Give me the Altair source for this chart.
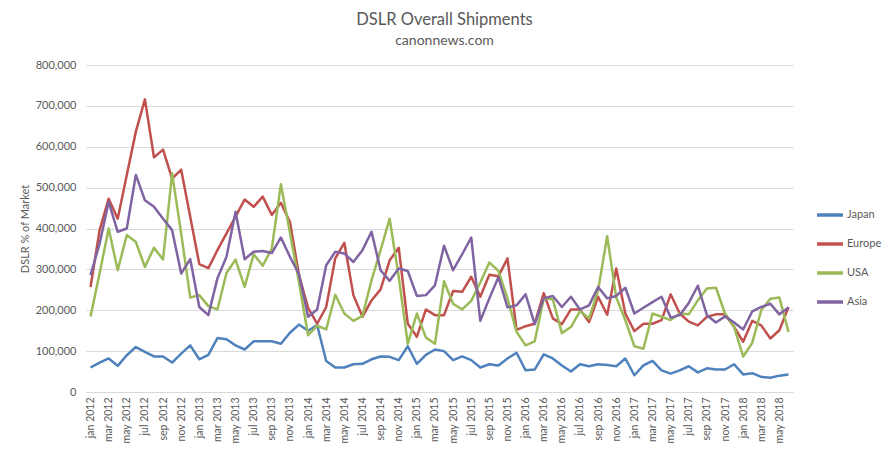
import altair as alt
import pandas as pd

month_names = ["jan", "feb", "mar", "apr", "may", "jun", "jul", "aug", "sep", "oct", "nov", "dec"]
months = [f"{month_names[i % 12]} {2012 + i // 12}" for i in range(78)]

series_names = ["Japan", "Europe", "USA", "Asia"]
series_colors = ["#4F81BD", "#C0504D", "#9BBB59", "#8064A2"]

japan = [60, 72, 82, 64, 90, 110, 98, 87, 87, 72, 94, 114, 80, 91, 132, 129, 114, 104, 124, 124,
         124, 118, 145, 165, 150, 164, 76, 60, 60, 68, 69, 80, 87, 86, 78, 112, 69, 91, 104, 100,
         78, 87, 78, 60, 68, 65, 82, 96, 53, 55, 92, 82, 65, 50, 68, 63, 68, 66, 63, 82,
         41, 65, 76, 53, 45, 53, 63, 48, 58, 55, 55, 68, 43, 46, 37, 35, 40, 43]
europe = [257, 396, 473, 424, 531, 637, 716, 574, 593, 522, 544, 429, 313, 303, 347, 388, 429, 471, 453, 478,
          433, 463, 416, 286, 206, 167, 208, 327, 365, 237, 184, 224, 251, 322, 353, 167, 135, 202, 188, 188,
          247, 245, 282, 233, 287, 283, 327, 152, 161, 167, 242, 180, 166, 202, 202, 171, 233, 189, 302, 192,
          149, 167, 167, 176, 239, 192, 172, 163, 184, 190, 190, 159, 123, 174, 163, 131, 151, 208]
usa = [185, 290, 400, 298, 384, 367, 306, 353, 324, 535, 388, 231, 237, 210, 202, 291, 324, 257, 337, 309,
       351, 508, 390, 268, 139, 162, 153, 238, 192, 174, 186, 273, 347, 424, 282, 118, 192, 133, 118, 271,
       216, 202, 223, 268, 317, 296, 229, 147, 114, 124, 229, 227, 144, 159, 198, 180, 249, 381, 231, 176,
       112, 106, 192, 184, 176, 192, 190, 224, 253, 255, 192, 159, 87, 120, 200, 228, 231, 147]
asia = [286, 363, 465, 392, 400, 531, 469, 453, 424, 396, 290, 325, 208, 188, 278, 331, 441, 325, 343, 345,
        340, 378, 331, 288, 184, 202, 310, 343, 339, 318, 347, 392, 298, 272, 302, 296, 235, 237, 261, 358,
        298, 337, 378, 174, 229, 281, 207, 212, 239, 166, 229, 235, 208, 233, 202, 212, 257, 229, 235, 255,
        192, 206, 220, 233, 182, 188, 218, 260, 188, 170, 185, 170, 153, 197, 208, 216, 190, 207]

y_ticks = [0, 100000, 200000, 300000, 400000, 500000, 600000, 700000, 800000]

rows = []
for name, vals in zip(series_names, [japan, europe, usa, asia]):
    for i, v in enumerate(vals):
        rows.append({"month": months[i], "idx": i, "region": name, "value": v * 1000})
df = pd.DataFrame(rows)

FONT = "Lato"
TXT = "#595959"

chart = alt.Chart(df).mark_line(strokeWidth=2.5, strokeJoin="round").encode(
    x=alt.X("month:O", sort=months,
            scale=alt.Scale(padding=0.5),
            axis=alt.Axis(values=months[::2], labelAngle=-90, labelFontSize=10.5, labelColor=TXT,
                          labelFont=FONT, ticks=False, domainColor="#d9d9d9", grid=False,
                          labelPadding=5, title=None)),
    y=alt.Y("value:Q", scale=alt.Scale(domain=[0, 800000], nice=False),
            axis=alt.Axis(values=y_ticks, format=",.0f", labelFontSize=11, labelColor=TXT, labelFont=FONT,
                          ticks=False, domain=False, gridColor="#d9d9d9", labelPadding=10,
                          title="DSLR % of Market", titleFontSize=11, titleColor=TXT, titleFont=FONT,
                          titleFontWeight="normal", titlePadding=5)),
    color=alt.Color("region:N",
                    scale=alt.Scale(domain=series_names, range=series_colors),
                    legend=alt.Legend(title=None, orient="none", legendX=729, legendY=135,
                                      symbolType="stroke", symbolSize=676, symbolStrokeWidth=3.5,
                                      labelFontSize=11, labelColor=TXT, labelFont=FONT,
                                      labelOffset=2, rowPadding=7)),
    order=alt.Order("idx:Q"),
).properties(
    width=707,
    height=327,
    autosize=alt.AutoSizeParams(type="none"),
    padding={"left": 78, "top": 57, "right": 90, "bottom": 53},
    title=alt.TitleParams(text="DSLR Overall Shipments", subtitle="canonnews.com",
                          fontSize=16.5, subtitleFontSize=14, font=FONT, subtitleFont=FONT,
                          color=TXT, subtitleColor=TXT, fontWeight="normal",
                          anchor="middle", dx=5, offset=11, subtitlePadding=6),
).configure_view(stroke=None)

chart.save("out.html", embed_options={"renderer": "svg", "actions": False})
